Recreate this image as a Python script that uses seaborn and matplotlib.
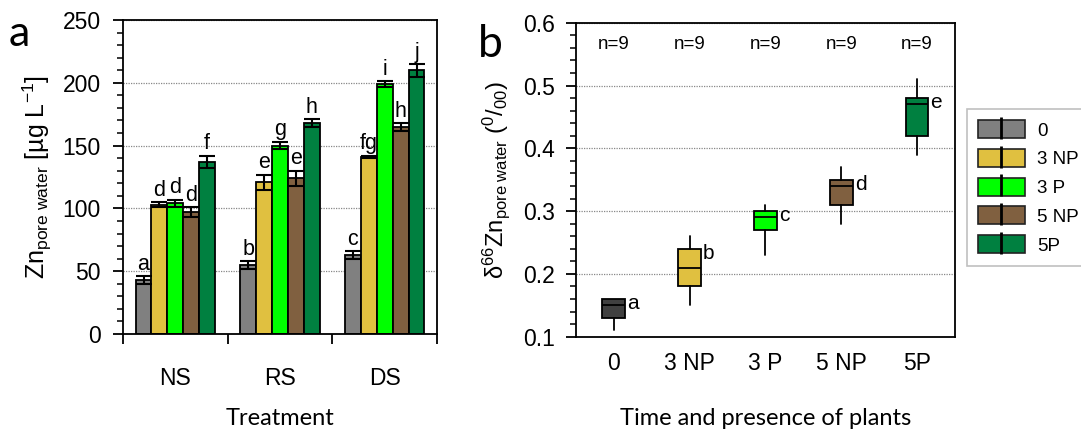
import numpy as np
import pandas as pd
import matplotlib
matplotlib.use("Agg")
import matplotlib.pyplot as plt
import seaborn as sns
from matplotlib.patches import Patch
from matplotlib.lines import Line2D
from matplotlib.legend_handler import HandlerTuple
from matplotlib.ticker import MultipleLocator, FixedLocator, NullLocator

# ---------------- data ----------------
treatments = ["NS", "RS", "DS"]
groups = ["0", "3 NP", "3 P", "5 NP", "5P"]

zn_0 = [43, 55, 63]
zn_3np = [103, 121, 141]
zn_3p = [104, 150, 199]
zn_5np = [97, 124, 165]
zn_5p = [137, 168, 210]

err_0 = [3, 3, 3]
err_3np = [2, 6, 1]
err_3p = [3, 3, 2.5]
err_5np = [4, 6, 3]
err_5p = [5, 3, 5]

let_0 = ["a", "b", "c"]
let_3np = ["d", "e", "fg"]
let_3p = ["d", "g", "i"]
let_5np = ["d", "e", "h"]
let_5p = ["f", "h", "j"]

box_groups = ["0", "3 NP", "3 P", "5 NP", "5P"]
box_whislo = [0.11, 0.15, 0.23, 0.28, 0.39]
box_q1 = [0.13, 0.18, 0.27, 0.31, 0.42]
box_med = [0.15, 0.21, 0.29, 0.34, 0.47]
box_q3 = [0.16, 0.24, 0.30, 0.35, 0.48]
box_whishi = [0.16, 0.26, 0.31, 0.37, 0.51]
box_letters = ["a", "b", "c", "d", "e"]
box_n = ["n=9", "n=9", "n=9", "n=9", "n=9"]

bar_colors = ["#808080", "#E0C040", "#00FF00", "#806040", "#008040"]
box_colors = ["#404040", "#E0C040", "#00FF00", "#806040", "#008040"]
legend_colors = ["#808080", "#E0C040", "#00FF00", "#806040", "#008040"]

# ---------------- style ----------------
sns.set_style("ticks")
plt.rcParams["font.family"] = ["Liberation Sans", "DejaVu Sans"]
plt.rcParams["mathtext.fontset"] = "custom"
plt.rcParams["mathtext.rm"] = "Liberation Sans"
plt.rcParams["mathtext.it"] = "Liberation Sans:italic"
plt.rcParams["mathtext.bf"] = "Liberation Sans:bold"
plt.rcParams["axes.edgecolor"] = "black"
plt.rcParams["axes.linewidth"] = 1.3
plt.rcParams["text.color"] = "black"
plt.rcParams["axes.labelcolor"] = "black"
plt.rcParams["xtick.color"] = "black"
plt.rcParams["ytick.color"] = "black"

fig = plt.figure(figsize=(10.81, 4.36), dpi=100)
axA = fig.add_axes([0.1138, 0.2339, 0.2905, 0.7202])
axB = fig.add_axes([0.5328, 0.2278, 0.3506, 0.7201])

TICK_FS = 16.5
LABEL_FONT = ["Lato", "DejaVu Sans"]

# ---------------- panel a ----------------
vals = [zn_0, zn_3np, zn_3p, zn_5np, zn_5p]
errs = [err_0, err_3np, err_3p, err_5np, err_5p]
lets = [let_0, let_3np, let_3p, let_5np, let_5p]
df = pd.DataFrame({
    "Treatment": np.repeat([treatments], len(groups), axis=0).ravel(),
    "Group": np.repeat(groups, len(treatments)),
    "Zn": np.concatenate(vals),
})
sns.barplot(data=df, x="Treatment", y="Zn", hue="Group", order=treatments,
            hue_order=groups, palette=bar_colors, width=0.76, errorbar=None,
            edgecolor="black", linewidth=1.3, saturation=1, legend=False, ax=axA)

bar_conts = list(axA.containers)
for gi, cont in enumerate(bar_conts):
    for ti, p in enumerate(cont.patches):
        x = p.get_x() + p.get_width() / 2
        y = p.get_height()
        e = errs[gi][ti]
        axA.errorbar(x, y, yerr=e, fmt="none", ecolor="black", elinewidth=1.5,
                     capsize=5.5, capthick=1.5, zorder=5)
        axA.annotate(lets[gi][ti], (x, y + e), xytext=(0, 1.0), textcoords="offset points",
                     ha="center", va="bottom", fontsize=15.5, color="black")

axA.set_xlim(-0.5, 2.5)
axA.set_ylim(0, 250)
axA.yaxis.set_major_locator(MultipleLocator(50))
axA.yaxis.set_minor_locator(MultipleLocator(10))
axA.xaxis.set_minor_locator(FixedLocator([-0.5, 0.5, 1.5, 2.5]))
axA.tick_params(axis="y", which="major", direction="out", length=7, width=1.3,
                labelsize=TICK_FS, pad=9)
axA.tick_params(axis="y", which="minor", direction="out", length=4, width=1.1)
axA.tick_params(axis="x", which="major", length=0, labelsize=TICK_FS, pad=24)
axA.tick_params(axis="x", which="minor", direction="out", length=7, width=1.3)
axA.grid(axis="y", which="major", linestyle=(0, (1, 1)), color="#888888", linewidth=0.9)
axA.set_axisbelow(True)
for s in axA.spines.values():
    s.set_visible(True)
axA.set_xlabel("Treatment", fontsize=17, family=LABEL_FONT, labelpad=13)
axA.set_ylabel(r"Zn$_{\mathrm{pore\ water}}$ [µg L$^{\mathrm{-1}}$]", fontsize=18, labelpad=6)
fig.text(0.008, 0.965, "a", fontsize=31, family=LABEL_FONT, ha="left", va="top")

# ---------------- panel b ----------------
stats = []
for i in range(len(box_groups)):
    stats.append(dict(label=box_groups[i], med=box_med[i], q1=box_q1[i], q3=box_q3[i],
                      whislo=box_whislo[i], whishi=box_whishi[i], fliers=[]))
positions = np.arange(len(box_groups))
bp = axB.bxp(stats, positions=positions, widths=0.3, patch_artist=True, showcaps=False,
             boxprops=dict(edgecolor="black", linewidth=1.3),
             medianprops=dict(color="black", linewidth=1.3),
             whiskerprops=dict(color="black", linewidth=1.3), showfliers=False)
for patch, c in zip(bp["boxes"], box_colors):
    patch.set_facecolor(c)

for i in range(len(box_groups)):
    axB.annotate(box_letters[i], (positions[i] + 0.15, box_q3[i] - 0.016), xytext=(1.5, 0),
                 textcoords="offset points", ha="left", va="baseline", fontsize=15)
    axB.text(positions[i], 0.565, box_n[i], ha="center", va="center", fontsize=13.5)

axB.set_xlim(-0.5, 4.5)
axB.set_ylim(0.1, 0.6)
axB.set_xticks(positions)
axB.set_xticklabels(box_groups)
axB.yaxis.set_major_locator(MultipleLocator(0.1))
axB.yaxis.set_minor_locator(MultipleLocator(0.02))
axB.yaxis.set_major_formatter(matplotlib.ticker.FormatStrFormatter("%.1f"))
axB.tick_params(axis="y", which="major", direction="out", length=7, width=1.3,
                labelsize=TICK_FS, pad=8)
axB.tick_params(axis="y", which="minor", direction="out", length=4, width=1.1)
axB.tick_params(axis="x", which="major", length=0, labelsize=TICK_FS, pad=11)
axB.grid(axis="y", which="major", linestyle=(0, (1, 1)), color="#888888", linewidth=0.9)
axB.set_axisbelow(True)
for s in axB.spines.values():
    s.set_visible(True)
axB.set_xlabel("Time and presence of plants", fontsize=17, family=LABEL_FONT, labelpad=24)
axB.set_ylabel(r"$\mathrm{\delta}^{66}$Zn$_{\mathrm{pore\ water}}$ ($^{0}$/$_{00}$)",
               fontsize=17, labelpad=8)
fig.text(0.442, 0.945, "b", fontsize=32, family=LABEL_FONT, ha="left", va="top")

handles = [(Patch(facecolor=c, edgecolor="#222222", linewidth=1.2),
            Line2D([], [], marker="|", color="black", markersize=16.5, markeredgewidth=2.0,
                   linestyle="None"))
           for c in legend_colors]
leg = fig.legend(handles, box_groups, loc="upper left", bbox_to_anchor=(0.8943, 0.75),
                 bbox_transform=fig.transFigure, borderaxespad=0, frameon=True,
                 fancybox=False, edgecolor="#c0c0c0", framealpha=1, fontsize=13.5,
                 handlelength=2.5, handleheight=1.1, labelspacing=0.5,
                 handletextpad=0.65, borderpad=0.6,
                 handler_map={tuple: HandlerTuple(ndivide=1, pad=0)})
leg.get_frame().set_linewidth(1.2)

fig.savefig("out.png", dpi=100)
